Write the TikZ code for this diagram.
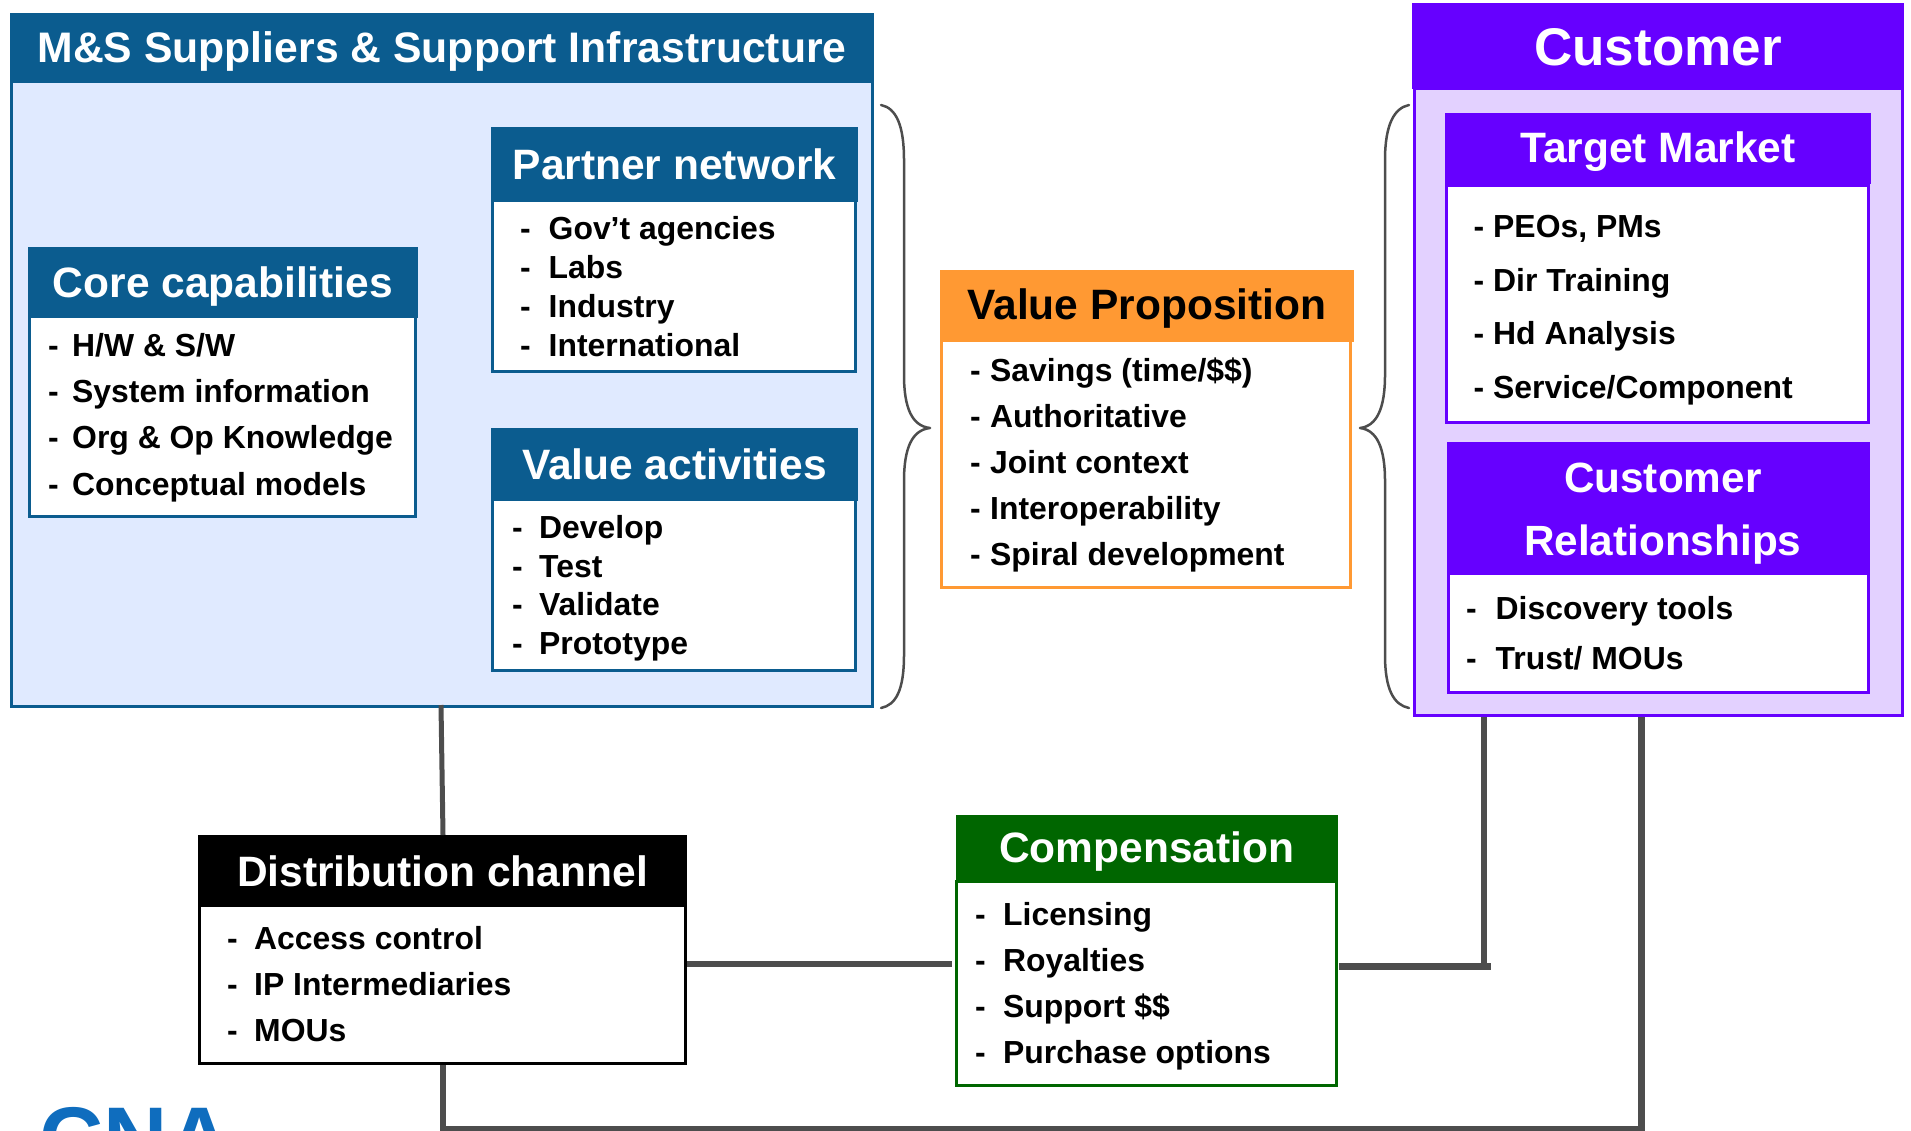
\documentclass[tikz,border=0pt]{standalone}
\usepackage{fontspec}
\setmainfont{Liberation Sans}
\definecolor{msblue}{HTML}{0B5C8F}
\definecolor{mspale}{HTML}{E0EAFF}
\definecolor{cpurple}{HTML}{6600FF}
\definecolor{cpale}{HTML}{E3D1FF}
\definecolor{vorange}{HTML}{FF9933}
\definecolor{cgreen}{HTML}{006600}
\definecolor{lgray}{HTML}{4D4D4D}
\definecolor{logoblue}{HTML}{0F6DBE}
\newcommand{\dashitem}[2]{\makebox[#1pt][l]{-}#2}
\newcommand{\lowered}[2]{\raisebox{-#1pt}[\height][\depth]{#2}}
\tikzset{
  x=1pt,y=-1pt,
  rbox/.style n args={4}{rectangle,inner sep=0pt,outer sep=0pt,minimum width={(#3)-(#1)},minimum height={(#4)-(#2)},anchor=north west,at={(#1,#2)}},
  obox/.style n args={4}{rectangle,inner sep=0pt,outer sep=0pt,minimum width={(#3)-(#1)-3},minimum height={(#4)-(#2)},anchor=north west,at={(#1+1.5,#2-1.5)}},
  hdr/.style={fill=#1,draw=none,text=white,font=\fontsize{42.5}{52}\selectfont\bfseries,align=center},
  bodybox/.style={fill=white,draw=#1,line width=3pt},
  listtext/.style n args={2}{inner sep=0pt,anchor=base west,align=left,font=\fontsize{31.9}{#1}\selectfont\bfseries,text=black},
  conn/.style={draw=lgray,line width=#1},
  bracel/.style={draw=lgray,line width=2.5pt,line cap=round,line join=round}
}
\begin{document}
\begin{tikzpicture}
\useasboundingbox (0,0) rectangle (1911,1130);
% logo
\begin{scope}
\clip (30,1095) rectangle (245,1130);
\node[inner sep=0pt,anchor=base west,text=logoblue,font=\fontsize{89}{89}\selectfont\bfseries] (logo) at (39,1169) {CNA};
\end{scope}
% M&S
\node[obox={10}{83}{874}{708},fill=mspale,draw=msblue,line width=3pt] (msbody) {};
\node[rbox={10}{13}{874}{83},hdr=msblue,font=\fontsize{42.7}{52}\selectfont\bfseries] (mshead) {\lowered{3.6}{M\&S Suppliers \& Support Infrastructure}};
% Partner
\node[obox={491}{202}{857}{373},bodybox=msblue] (pnbody) {};
\node[rbox={491}{127}{858}{202},hdr=msblue] (pnhead) {Partner network};
\node[listtext={39}{0}] (pnlist) at (520,356) {\dashitem{28.5}{Gov’t agencies}\\\dashitem{28.5}{Labs}\\\dashitem{28.5}{Industry}\\\dashitem{28.5}{International}};
% Core
\node[obox={28}{318}{417}{518},bodybox=msblue] (ccbody) {};
\node[rbox={28}{247}{418}{318},hdr=msblue] (cchead) {\lowered{3.6}{Core capabilities}};
\node[listtext={46.3}{0}] (cclist) at (48,495) {\dashitem{24}{H/W \& S/W}\\\dashitem{24}{System information}\\\dashitem{24}{Org \& Op Knowledge}\\\dashitem{24}{Conceptual models}};
% Value activities
\node[obox={491}{501}{857}{672},bodybox=msblue] (vabody) {};
\node[rbox={491}{428}{858}{501},hdr=msblue] (vahead) {Value activities};
\node[listtext={38.7}{0}] (valist) at (512,654.5) {\dashitem{27}{Develop}\\\dashitem{27}{Test}\\\dashitem{27}{Validate}\\\dashitem{27}{Prototype}};
% Value proposition
\node[obox={940}{342}{1352}{589},bodybox=vorange] (vpbody) {};
\node[rbox={940}{270}{1354}{342},hdr=vorange,text=black,font=\fontsize{42.5}{52}\selectfont\bfseries] (vphead) {\lowered{3}{Value Proposition}};
\node[listtext={46}{0}] (vplist) at (970,565) {\dashitem{20}{Savings (time/\$\$)}\\\dashitem{20}{Authoritative}\\\dashitem{20}{Joint context}\\\dashitem{20}{Interoperability}\\\dashitem{20}{Spiral development}};
% Customer
\node[obox={1413}{90}{1904}{717},fill=cpale,draw=cpurple,line width=3pt] (cubody) {};
\node[rbox={1412}{3}{1904}{89},hdr=cpurple,font=\fontsize{53}{60}\selectfont\bfseries] (cuhead) {\lowered{1}{Customer}};
\node[obox={1445}{187}{1870}{424},bodybox=cpurple] (tmbody) {};
\node[rbox={1445}{113}{1871}{184},hdr=cpurple] (tmhead) {\lowered{3.6}{Target Market}};
\node[listtext={53.6}{0}] (tmlist) at (1473.5,398.5) {\dashitem{19.5}{PEOs, PMs}\\\dashitem{19.5}{Dir Training}\\\dashitem{19.5}{Hd Analysis}\\\dashitem{19.5}{Service/Component}};
\node[obox={1446.5}{575}{1870}{694},bodybox=cpurple] (crbody) {};
\node[rbox={1446.5}{442}{1870}{575},hdr=cpurple,font=\fontsize{42.3}{63}\selectfont\bfseries] (crhead) {\hspace*{9pt}\lowered{5}{Customer}\\\hspace*{9pt}\lowered{5}{Relationships}};
\node[listtext={50}{0}] (crlist) at (1466,669) {\dashitem{29.5}{Discovery tools}\\\dashitem{29.5}{Trust/ MOUs}};
% Distribution
\node[obox={198}{907}{687}{1065},bodybox=black] (dcbody) {};
\node[rbox={198}{835}{687}{907},hdr=black] (dchead) {Distribution channel};
\node[listtext={46}{0}] (dclist) at (227,1041) {\dashitem{27}{Access control}\\\dashitem{27}{IP Intermediaries}\\\dashitem{27}{MOUs}};
% Compensation
\node[obox={955}{883}{1338}{1087},bodybox=cgreen] (cpbody) {};
\node[rbox={955.5}{815}{1338}{883},hdr=cgreen] (cphead) {\lowered{2.4}{Compensation}};
\node[listtext={46}{0}] (cplist) at (975,1063) {\dashitem{28}{Licensing}\\\dashitem{28}{Royalties}\\\dashitem{28}{Support \$\$}\\\dashitem{28}{Purchase options}};
% braces
\path (881,105) coordinate (blt) (930,428) coordinate (blm) (881,708) coordinate (blb);
\path (1409,105) coordinate (brt) (1360,428) coordinate (brm) (1409,708) coordinate (brb);
\draw[bracel] (blt) .. controls (896,108) and (904,125) .. (904,160) -- (904,375) .. controls (904,408) and (912,426) .. (blm) .. controls (912,430) and (904,448) .. (904,481) -- (904,655) .. controls (904,690) and (896,705) .. (blb);
\draw[bracel] (brt) .. controls (1394,108) and (1385,125) .. (1385,160) -- (1385,375) .. controls (1385,408) and (1377,426) .. (brm) .. controls (1377,430) and (1385,448) .. (1385,481) -- (1385,655) .. controls (1385,690) and (1394,705) .. (brb);
% connectors
\coordinate (msout) at (441,705);
\coordinate (dcin) at (443,835);
\draw[conn=5pt] (msout) -- (dcin);
\coordinate (dcout) at (687,964);
\coordinate (cpin) at (952,964);
\draw[conn=5.5pt] (dcout) -- (cpin);
\coordinate (cpout) at (1339,966.5);
\coordinate (cpend) at (1491,966.5);
\coordinate (tmdrop) at (1484,717);
\coordinate (tmjoin) at (1484,966.5);
\draw[conn=7pt] (cpout) -- (cpend);
\draw[conn=6pt] (tmdrop) -- (tmjoin);
\coordinate (dcdrop) at (443,1065);
\coordinate (bcorner) at (443,1129);
\coordinate (rcorner) at (1641.5,1129);
\coordinate (cudrop) at (1641.5,717);
\draw[conn=6.5pt,line join=miter] (dcdrop) -- (bcorner) -- (rcorner) -- (cudrop);
\end{tikzpicture}
\end{document}
